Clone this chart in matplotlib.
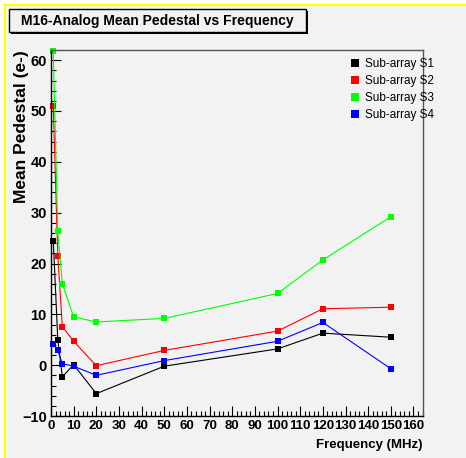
import matplotlib
matplotlib.use("Agg")
import matplotlib.pyplot as plt
from matplotlib.patches import Rectangle
from matplotlib.lines import Line2D
from matplotlib.ticker import MultipleLocator

freq = [1, 3, 5, 10, 20, 50, 100, 120, 150]
s1 = [24.5, 5.0, -2.3, 0.1, -5.6, -0.2, 3.2, 6.3, 5.5]
s2 = [50.9, 21.5, 7.6, 4.7, -0.1, 2.9, 6.7, 11.1, 11.4]
s3 = [61.9, 26.3, 16.0, 9.5, 8.5, 9.2, 14.1, 20.7, 29.2]
s4 = [4.1, 2.9, 0.3, -0.2, -2.0, 0.9, 4.7, 8.4, -0.7]
series = [("Sub-array S1", s1, "#000000"), ("Sub-array S2", s2, "#ff0000"),
          ("Sub-array S3", s3, "#00ff00"), ("Sub-array S4", s4, "#0000ff")]
title = "M16-Analog Mean Pedestal vs Frequency"
xlabel = "Frequency (MHz)"
ylabel = "Mean Pedestal (e-)"

W, H = 466, 458
plt.rcParams['font.family'] = ['Liberation Sans', 'DejaVu Sans']
fig = plt.figure(figsize=(W / 100, H / 100), dpi=100, facecolor="white")
bg = "#f2f2f2"

def fx(px):
    return px / W

def fy(py):
    return 1 - py / H

# background panel and yellow border
fig.patches.append(Rectangle((fx(5), 0), 1 - fx(5), fy(5), transform=fig.transFigure,
                             facecolor=bg, edgecolor="none", zorder=-5))
fig.lines.append(Line2D([fx(5), 1], [fy(5), fy(5)], transform=fig.transFigure,
                        color="#ffff00", lw=1.5, zorder=-4))
fig.lines.append(Line2D([fx(5), fx(5)], [0, fy(5)], transform=fig.transFigure,
                        color="#ffff00", lw=1.5, zorder=-4))

ax = fig.add_axes([fx(51), fy(416), fx(423) - fx(51), fy(50) - fy(416)])
ax.set_zorder(1)
ax.set_facecolor(bg)

for name, vals, c in series:
    ax.plot(freq, vals, color=c, lw=0.8, marker="s", markersize=4.8, markeredgewidth=0,
            label=name, clip_on=False)

ax.set_xlim(0, 164.2)
ax.set_ylim(-10, 62)
ax.xaxis.set_major_locator(MultipleLocator(10))
ax.xaxis.set_minor_locator(MultipleLocator(2))
ax.yaxis.set_major_locator(MultipleLocator(10))
ax.yaxis.set_minor_locator(MultipleLocator(2))
ax.tick_params(axis="both", which="major", direction="in", length=7, width=0.8, pad=3)
ax.tick_params(axis="x", which="major", labelsize=9.5)
ax.tick_params(axis="y", which="major", labelsize=10.5)
ax.tick_params(axis="both", which="minor", direction="in", length=3.5, width=0.8)
for lab in ax.get_xticklabels() + ax.get_yticklabels():
    lab.set_fontweight("bold")
for s in ["top", "right"]:
    ax.spines[s].set_color("#555555")
    ax.spines[s].set_linewidth(1)
for s in ["left", "bottom"]:
    ax.spines[s].set_color("#000000")
    ax.spines[s].set_linewidth(1)

handles = [Line2D([], [], color=c, marker="s", linestyle="none", markersize=5.5,
                  markeredgewidth=0) for _, _, c in series]
leg = ax.legend(handles, [n for n, _, _ in series], loc="upper left",
                bbox_to_anchor=(fx(350), fy(58)), bbox_transform=fig.transFigure,
                frameon=False, fontsize=8.5, handlelength=0.8, handletextpad=0.5,
                labelspacing=0.42, borderpad=0, borderaxespad=0)

# title box with shadow
fig.patches.append(Rectangle((fx(11), fy(34)), fx(306) - fx(9), fy(9) - fy(32),
                             transform=fig.transFigure, facecolor="#000000",
                             edgecolor="none", zorder=1))
fig.patches.append(Rectangle((fx(9), fy(32)), fx(306) - fx(9), fy(9) - fy(32),
                             transform=fig.transFigure, facecolor=bg,
                             edgecolor="#000000", lw=1, zorder=2))
fig.text(fx(157.5), fy(20.5), title, ha="center", va="center", fontsize=10,
         fontweight="bold", zorder=3)

fig.text(fx(22), fy(50), ylabel, rotation=90, ha="center", va="top",
         fontsize=12.5, fontweight="bold")
fig.text(fx(423), fy(445), xlabel, ha="right", va="center", fontsize=9.5,
         fontweight="bold")

fig.savefig("out.png", dpi=100, facecolor=fig.get_facecolor())
